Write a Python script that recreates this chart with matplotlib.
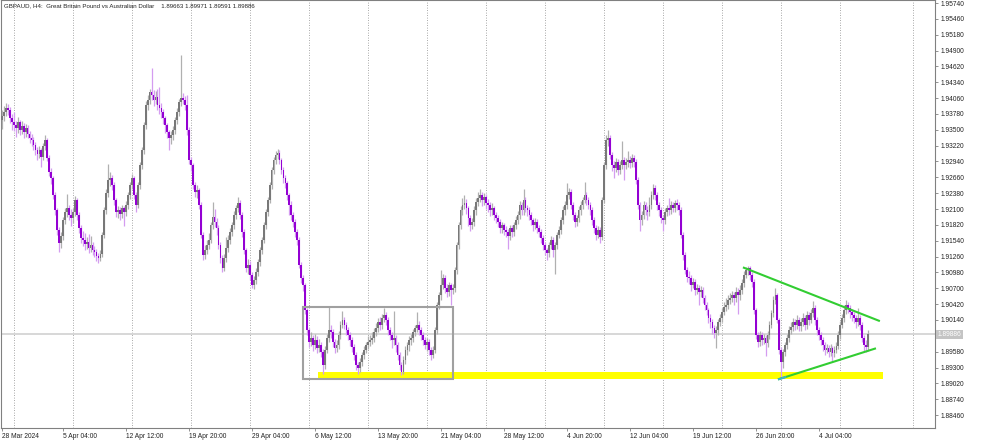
import numpy as np
import pandas as pd
import matplotlib
matplotlib.use("Agg")
import matplotlib.pyplot as plt
from matplotlib.patches import Rectangle
from matplotlib.transforms import blended_transform_factory
from matplotlib import rcParams

rcParams['font.family'] = ['Liberation Sans', 'DejaVu Sans']
rcParams['font.size'] = 4.8

header = "GBPAUD, H4:  Great Britain Pound vs Australian Dollar    1.89663 1.89971 1.89591 1.89886"
last_price = 1.89886
first_open = 1.9368

# H4 closes, 28 Mar 2024 -> 10 Jul 2024 (one row block per week)
closes = [
    1.9374, 1.9381, 1.9388, 1.9385, 1.9370, 1.9363,
    # 1 Apr
    1.9358, 1.9353, 1.9363, 1.9349, 1.9356, 1.9346, 1.9353, 1.9342, 1.9335, 1.9332,
    1.9323, 1.9314, 1.9307, 1.9314, 1.9302, 1.9321, 1.9332, 1.9300, 1.9275, 1.9264,
    1.9234, 1.9208, 1.9173, 1.9150, 1.9162, 1.9190, 1.9204, 1.9211, 1.9199, 1.9194,
    # 8 Apr
    1.9204, 1.9226, 1.9199, 1.9176, 1.9158, 1.9155, 1.9148, 1.9151, 1.9141, 1.9146,
    1.9137, 1.9134, 1.9127, 1.9123, 1.9130, 1.9164, 1.9208, 1.9238, 1.9261, 1.9264,
    1.9252, 1.9226, 1.9204, 1.9208, 1.9201, 1.9211, 1.9204, 1.9217, 1.9234, 1.9252,
    # 15 Apr
    1.9264, 1.9234, 1.9217, 1.9252, 1.9287, 1.9314, 1.9358, 1.9393, 1.9402, 1.9416,
    1.9411, 1.9402, 1.9408, 1.9393, 1.9388, 1.9381, 1.9370, 1.9358, 1.9346, 1.9335,
    1.9340, 1.9349, 1.9367, 1.9381, 1.9399, 1.9406, 1.9402, 1.9393, 1.9349, 1.9296,
    # 22 Apr
    1.9287, 1.9252, 1.9240, 1.9243, 1.9217, 1.9164, 1.9128, 1.9137, 1.9146, 1.9155,
    1.9181, 1.9196, 1.9187, 1.9176, 1.9146, 1.9123, 1.9105, 1.9123, 1.9141, 1.9155,
    1.9169, 1.9181, 1.9199, 1.9211, 1.9220, 1.9199, 1.9169, 1.9137, 1.9105, 1.9111,
    # 29 Apr
    1.9093, 1.9075, 1.9084, 1.9098, 1.9116, 1.9137, 1.9155, 1.9181, 1.9204, 1.9226,
    1.9252, 1.9279, 1.9296, 1.9305, 1.9309, 1.9296, 1.9279, 1.9264, 1.9256, 1.9234,
    1.9217, 1.9199, 1.9187, 1.9169, 1.9155, 1.9111, 1.9088, 1.9075, 1.9031, 1.8996,
    # 6 May
    1.8975, 1.8982, 1.8969, 1.8978, 1.8964, 1.8969, 1.8957, 1.8934, 1.8961, 1.8982,
    1.8996, 1.8992, 1.8975, 1.8964, 1.8969, 1.8987, 1.9005, 1.9014, 1.9005, 1.8996,
    1.8987, 1.8978, 1.8966, 1.8952, 1.8934, 1.8929, 1.8939, 1.8952, 1.8961, 1.8969,
    # 13 May
    1.8975, 1.8978, 1.8982, 1.8992, 1.8999, 1.9010, 1.9005, 1.9017, 1.9022, 1.9014,
    1.8996, 1.8987, 1.8978, 1.8982, 1.8969, 1.8952, 1.8934, 1.8922, 1.8943, 1.8961,
    1.8969, 1.8978, 1.8982, 1.8992, 1.8999, 1.9005, 1.8996, 1.8987, 1.8978, 1.8969,
    # 20 May
    1.8975, 1.8961, 1.8952, 1.8961, 1.8996, 1.9040, 1.9058, 1.9075, 1.9088, 1.9070,
    1.9063, 1.9075, 1.9067, 1.9070, 1.9102, 1.9146, 1.9181, 1.9208, 1.9217, 1.9220,
    1.9211, 1.9194, 1.9181, 1.9187, 1.9208, 1.9222, 1.9229, 1.9234, 1.9226, 1.9231,
    # 27 May
    1.9220, 1.9217, 1.9208, 1.9211, 1.9199, 1.9194, 1.9187, 1.9176, 1.9181, 1.9173,
    1.9169, 1.9162, 1.9176, 1.9169, 1.9181, 1.9190, 1.9199, 1.9217, 1.9208, 1.9226,
    1.9211, 1.9208, 1.9199, 1.9190, 1.9181, 1.9187, 1.9176, 1.9169, 1.9158, 1.9146,
    # 3 Jun
    1.9137, 1.9132, 1.9146, 1.9155, 1.9137, 1.9146, 1.9164, 1.9173, 1.9190, 1.9208,
    1.9217, 1.9234, 1.9240, 1.9217, 1.9199, 1.9187, 1.9194, 1.9208, 1.9217, 1.9226,
    1.9234, 1.9226, 1.9217, 1.9208, 1.9190, 1.9176, 1.9164, 1.9173, 1.9160, 1.9226,
    # 10 Jun
    1.9287, 1.9332, 1.9335, 1.9305, 1.9287, 1.9282, 1.9293, 1.9279, 1.9287, 1.9296,
    1.9287, 1.9293, 1.9296, 1.9291, 1.9300, 1.9293, 1.9261, 1.9217, 1.9190, 1.9199,
    1.9217, 1.9208, 1.9204, 1.9217, 1.9234, 1.9247, 1.9234, 1.9217, 1.9208, 1.9194,
    # 17 Jun
    1.9190, 1.9204, 1.9211, 1.9208, 1.9217, 1.9211, 1.9220, 1.9217, 1.9208, 1.9164,
    1.9128, 1.9102, 1.9090, 1.9088, 1.9075, 1.9081, 1.9067, 1.9070, 1.9063, 1.9067,
    1.9052, 1.9040, 1.9031, 1.9017, 1.9010, 1.8999, 1.8991, 1.8996, 1.9010, 1.9017,
    # 24 Jun
    1.9028, 1.9037, 1.9040, 1.9049, 1.9052, 1.9058, 1.9052, 1.9063, 1.9058, 1.9067,
    1.9079, 1.9093, 1.9102, 1.9105, 1.9093, 1.9081, 1.9031, 1.8987, 1.8975, 1.8987,
    1.8978, 1.8982, 1.8973, 1.8987, 1.9005, 1.9026, 1.9049, 1.9058, 1.9014, 1.8961,
    # 1 Jul
    1.8939, 1.8957, 1.8969, 1.8982, 1.8996, 1.9001, 1.9010, 1.9005, 1.9014, 1.9003,
    1.9010, 1.9017, 1.9005, 1.9022, 1.9014, 1.9026, 1.9035, 1.9014, 1.8996, 1.8987,
    1.8978, 1.8969, 1.8961, 1.8964, 1.8957, 1.8964, 1.8955, 1.8961, 1.8968, 1.8987,
    # 8 Jul
    1.9005, 1.9017, 1.9031, 1.9040, 1.9035, 1.9028, 1.9022, 1.9017, 1.9010, 1.9017,
    1.9005, 1.8982, 1.8969, 1.89663, 1.89886,
]

highs = [
    1.9385, 1.9392, 1.9398, 1.9396, 1.9390, 1.9378,
    1.9382, 1.9366, 1.9372, 1.9368, 1.9365, 1.9362, 1.9360, 1.9358, 1.9347, 1.9343,
    1.9338, 1.9328, 1.9320, 1.9321, 1.9318, 1.9327, 1.9340, 1.9336, 1.9305, 1.9282,
    1.9268, 1.9240, 1.9212, 1.9178, 1.9170, 1.9196, 1.9212, 1.9236, 1.9218, 1.9210,
    1.9212, 1.9233, 1.9230, 1.9204, 1.9181, 1.9172, 1.9168, 1.9160, 1.9166, 1.9162,
    1.9152, 1.9145, 1.9140, 1.9133, 1.9138, 1.9170, 1.9214, 1.9245, 1.9290, 1.9275,
    1.9270, 1.9258, 1.9230, 1.9216, 1.9214, 1.9218, 1.9216, 1.9224, 1.9240, 1.9258,
    1.9272, 1.9268, 1.9240, 1.9258, 1.9293, 1.9320, 1.9364, 1.9400, 1.9412, 1.9422,
    1.9460, 1.9420, 1.9418, 1.9422, 1.9425, 1.9398, 1.9386, 1.9375, 1.9362, 1.9350,
    1.9348, 1.9356, 1.9372, 1.9388, 1.9405, 1.9482, 1.9415, 1.9410, 1.9412, 1.9355,
    1.9302, 1.9292, 1.9258, 1.9252, 1.9248, 1.9222, 1.9170, 1.9146, 1.9155, 1.9168,
    1.9188, 1.9222, 1.9210, 1.9195, 1.9182, 1.9152, 1.9128, 1.9130, 1.9160, 1.9165,
    1.9176, 1.9188, 1.9206, 1.9218, 1.9232, 1.9226, 1.9205, 1.9175, 1.9142, 1.9122,
    1.9118, 1.9098, 1.9092, 1.9105, 1.9122, 1.9143, 1.9160, 1.9187, 1.9210, 1.9232,
    1.9258, 1.9285, 1.9302, 1.9312, 1.9316, 1.9314, 1.9300, 1.9284, 1.9270, 1.9260,
    1.9238, 1.9224, 1.9205, 1.9192, 1.9174, 1.9160, 1.9116, 1.9094, 1.9080, 1.9036,
    1.9000, 1.8992, 1.8988, 1.8990, 1.8985, 1.8980, 1.8975, 1.8962, 1.8968, 1.8990,
    1.9038, 1.9005, 1.8998, 1.8980, 1.8978, 1.8994, 1.9012, 1.9030, 1.9020, 1.9010,
    1.9002, 1.8992, 1.8984, 1.8972, 1.8958, 1.8940, 1.8946, 1.8958, 1.8968, 1.8976,
    1.8985, 1.8988, 1.8992, 1.9000, 1.9008, 1.9018, 1.9020, 1.9025, 1.9035, 1.9028,
    1.9020, 1.9002, 1.8992, 1.9030, 1.8988, 1.8975, 1.8958, 1.8940, 1.8950, 1.8968,
    1.8976, 1.8986, 1.8990, 1.8998, 1.9006, 1.9028, 1.9012, 1.9002, 1.8992, 1.8984,
    1.8982, 1.8980, 1.8966, 1.8968, 1.9002, 1.9046, 1.9064, 1.9102, 1.9095, 1.9094,
    1.9078, 1.9082, 1.9080, 1.9078, 1.9108, 1.9152, 1.9188, 1.9215, 1.9230, 1.9235,
    1.9228, 1.9216, 1.9200, 1.9195, 1.9215, 1.9230, 1.9240, 1.9245, 1.9240, 1.9238,
    1.9236, 1.9228, 1.9222, 1.9220, 1.9215, 1.9205, 1.9200, 1.9192, 1.9188, 1.9186,
    1.9180, 1.9175, 1.9182, 1.9182, 1.9188, 1.9198, 1.9206, 1.9224, 1.9222, 1.9245,
    1.9232, 1.9218, 1.9214, 1.9205, 1.9195, 1.9194, 1.9192, 1.9182, 1.9175, 1.9164,
    1.9152, 1.9142, 1.9152, 1.9162, 1.9160, 1.9152, 1.9170, 1.9180, 1.9196, 1.9215,
    1.9225, 1.9256, 1.9248, 1.9245, 1.9222, 1.9204, 1.9200, 1.9215, 1.9224, 1.9232,
    1.9258, 1.9240, 1.9232, 1.9222, 1.9214, 1.9196, 1.9182, 1.9180, 1.9178, 1.9232,
    1.9293, 1.9340, 1.9349, 1.9340, 1.9310, 1.9295, 1.9300, 1.9298, 1.9294, 1.9330,
    1.9302, 1.9300, 1.9312, 1.9303, 1.9308, 1.9305, 1.9298, 1.9266, 1.9222, 1.9206,
    1.9224, 1.9222, 1.9215, 1.9232, 1.9242, 1.9255, 1.9252, 1.9240, 1.9222, 1.9213,
    1.9200, 1.9212, 1.9218, 1.9230, 1.9225, 1.9222, 1.9226, 1.9228, 1.9222, 1.9214,
    1.9170, 1.9134, 1.9108, 1.9100, 1.9093, 1.9088, 1.9086, 1.9078, 1.9075, 1.9074,
    1.9072, 1.9058, 1.9046, 1.9036, 1.9024, 1.9015, 1.9005, 1.9004, 1.9016, 1.9024,
    1.9036, 1.9046, 1.9052, 1.9058, 1.9062, 1.9066, 1.9064, 1.9072, 1.9070, 1.9075,
    1.9086, 1.9100, 1.9108, 1.9110, 1.9110, 1.9098, 1.9086, 1.9036, 1.8992, 1.8994,
    1.8992, 1.8990, 1.8988, 1.8994, 1.9012, 1.9032, 1.9056, 1.9070, 1.9062, 1.9018,
    1.8966, 1.8963, 1.8976, 1.8990, 1.9004, 1.9010, 1.9018, 1.9015, 1.9022, 1.9020,
    1.9018, 1.9026, 1.9022, 1.9030, 1.9028, 1.9034, 1.9048, 1.9040, 1.9020, 1.9002,
    1.8992, 1.8984, 1.8975, 1.8972, 1.8970, 1.8972, 1.8968, 1.8968, 1.8975, 1.8994,
    1.9012, 1.9024, 1.9040, 1.9050, 1.9046, 1.9040, 1.9034, 1.9028, 1.9022, 1.9035,
    1.9022, 1.9010, 1.8988, 1.8978, 1.89971,
]

lows = [
    1.9352, 1.9366, 1.9375, 1.9377, 1.9362, 1.9350,
    1.9348, 1.9338, 1.9345, 1.9340, 1.9342, 1.9336, 1.9338, 1.9335, 1.9326, 1.9322,
    1.9314, 1.9305, 1.9296, 1.9300, 1.9285, 1.9296, 1.9315, 1.9294, 1.9268, 1.9255,
    1.9228, 1.9200, 1.9165, 1.9135, 1.9142, 1.9155, 1.9183, 1.9196, 1.9190, 1.9180,
    1.9186, 1.9198, 1.9190, 1.9168, 1.9150, 1.9145, 1.9138, 1.9140, 1.9133, 1.9135,
    1.9128, 1.9125, 1.9118, 1.9114, 1.9118, 1.9125, 1.9158, 1.9202, 1.9232, 1.9250,
    1.9244, 1.9218, 1.9196, 1.9195, 1.9190, 1.9194, 1.9180, 1.9198, 1.9210, 1.9228,
    1.9246, 1.9228, 1.9205, 1.9212, 1.9246, 1.9280, 1.9308, 1.9352, 1.9385, 1.9396,
    1.9403, 1.9392, 1.9395, 1.9385, 1.9378, 1.9370, 1.9360, 1.9345, 1.9335, 1.9315,
    1.9325, 1.9332, 1.9342, 1.9360, 1.9375, 1.9392, 1.9395, 1.9385, 1.9340, 1.9290,
    1.9278, 1.9245, 1.9232, 1.9230, 1.9210, 1.9158, 1.9120, 1.9122, 1.9130, 1.9140,
    1.9150, 1.9175, 1.9178, 1.9165, 1.9140, 1.9115, 1.9098, 1.9100, 1.9116, 1.9135,
    1.9148, 1.9162, 1.9175, 1.9192, 1.9205, 1.9192, 1.9160, 1.9130, 1.9098, 1.9096,
    1.9085, 1.9070, 1.9068, 1.9078, 1.9092, 1.9110, 1.9130, 1.9150, 1.9175, 1.9198,
    1.9220, 1.9246, 1.9272, 1.9290, 1.9298, 1.9290, 1.9272, 1.9256, 1.9248, 1.9226,
    1.9200, 1.9190, 1.9178, 1.9160, 1.9146, 1.9105, 1.9080, 1.9066, 1.9024, 1.8988,
    1.8966, 1.8968, 1.8960, 1.8962, 1.8955, 1.8957, 1.8948, 1.8918, 1.8928, 1.8955,
    1.8976, 1.8983, 1.8966, 1.8955, 1.8958, 1.8962, 1.8980, 1.9000, 1.8998, 1.8988,
    1.8978, 1.8968, 1.8958, 1.8943, 1.8925, 1.8918, 1.8922, 1.8932, 1.8945, 1.8955,
    1.8962, 1.8968, 1.8972, 1.8975, 1.8985, 1.8992, 1.8996, 1.8998, 1.9010, 1.9005,
    1.8988, 1.8978, 1.8965, 1.8970, 1.8958, 1.8943, 1.8925, 1.8916, 1.8918, 1.8936,
    1.8952, 1.8960, 1.8970, 1.8975, 1.8985, 1.8992, 1.8988, 1.8978, 1.8970, 1.8962,
    1.8960, 1.8952, 1.8943, 1.8946, 1.8955, 1.8990, 1.9034, 1.9050, 1.9068, 1.9062,
    1.9055, 1.9056, 1.9040, 1.9060, 1.9064, 1.9095, 1.9140, 1.9175, 1.9200, 1.9210,
    1.9202, 1.9180, 1.9172, 1.9175, 1.9180, 1.9200, 1.9215, 1.9222, 1.9215, 1.9218,
    1.9210, 1.9205, 1.9198, 1.9200, 1.9190, 1.9185, 1.9178, 1.9168, 1.9168, 1.9165,
    1.9160, 1.9140, 1.9155, 1.9160, 1.9162, 1.9175, 1.9184, 1.9192, 1.9200, 1.9200,
    1.9204, 1.9198, 1.9190, 1.9182, 1.9172, 1.9174, 1.9168, 1.9160, 1.9150, 1.9137,
    1.9128, 1.9120, 1.9125, 1.9140, 1.9125, 1.9096, 1.9140, 1.9158, 1.9166, 1.9184,
    1.9200, 1.9210, 1.9228, 1.9210, 1.9190, 1.9178, 1.9180, 1.9188, 1.9200, 1.9210,
    1.9220, 1.9218, 1.9210, 1.9200, 1.9182, 1.9168, 1.9155, 1.9158, 1.9150, 1.9155,
    1.9220, 1.9280, 1.9322, 1.9298, 1.9278, 1.9265, 1.9275, 1.9270, 1.9272, 1.9280,
    1.9262, 1.9280, 1.9285, 1.9282, 1.9285, 1.9284, 1.9254, 1.9210, 1.9172, 1.9182,
    1.9192, 1.9200, 1.9190, 1.9198, 1.9210, 1.9228, 1.9226, 1.9208, 1.9198, 1.9185,
    1.9172, 1.9184, 1.9198, 1.9200, 1.9202, 1.9204, 1.9205, 1.9208, 1.9200, 1.9158,
    1.9120, 1.9095, 1.9082, 1.9078, 1.9066, 1.9070, 1.9058, 1.9060, 1.9040, 1.9055,
    1.9044, 1.9032, 1.9022, 1.9008, 1.9000, 1.8990, 1.8982, 1.8965, 1.8988, 1.9004,
    1.9010, 1.9022, 1.9030, 1.9034, 1.9042, 1.9046, 1.9040, 1.9046, 1.9025, 1.9050,
    1.9060, 1.9072, 1.9088, 1.9094, 1.9085, 1.9072, 1.9024, 1.8980, 1.8966, 1.8968,
    1.8970, 1.8972, 1.8950, 1.8966, 1.8980, 1.9000, 1.9020, 1.9042, 1.9008, 1.8954,
    1.8914, 1.8930, 1.8950, 1.8962, 1.8975, 1.8990, 1.8994, 1.8996, 1.8998, 1.8995,
    1.8995, 1.9004, 1.8996, 1.8998, 1.9006, 1.9008, 1.9020, 1.9005, 1.8988, 1.8978,
    1.8970, 1.8960, 1.8952, 1.8955, 1.8948, 1.8950, 1.8942, 1.8948, 1.8955, 1.8962,
    1.8980, 1.9000, 1.9010, 1.9025, 1.9026, 1.9018, 1.9012, 1.9008, 1.9000, 1.9004,
    1.8996, 1.8975, 1.8960, 1.8958, 1.89591,
]

# drawn objects on the chart (bar index / price)
box = dict(x0=153.0, x1=229.2, p0=1.8909, p1=1.9037)
support = dict(x0=160.5, x1=447.7, p0=1.8909, p1=1.8922)
upper_trend = ([376.5, 446.1], [1.9107, 1.9012])
lower_trend = ([394.3, 444.1], [1.8909, 1.8964])

n = len(closes)
opens = [first_open] + closes[:-1]

times = [pd.Timestamp("2024-03-28") + pd.Timedelta(hours=4 * k) for k in range(6)]
for day in pd.bdate_range("2024-04-01", periods=80):
    for k in range(6):
        times.append(day + pd.Timedelta(hours=4 * k))
times = times[:n]

o = np.array(opens)
c = np.array(closes)
h = np.array(highs)
l = np.array(lows)
x = np.arange(n)
up = c >= o

fig = plt.figure(figsize=(10, 4.43), dpi=100)
ax = fig.add_axes([0.001, 15 / 443, 0.934, 428 / 443])

# weekly dotted grid
week_starts = [i for i, t in enumerate(times) if t.dayofweek == 0 and t.hour == 0]
for gx in week_starts + [463]:
    ax.axvline(gx, color='#8c8c8c', lw=0.6, ls=(0, (1, 2)), zorder=1)

ax.axhline(last_price, color='#d4d4d4', lw=1.3, zorder=1)

# support zone + range box
ax.add_patch(Rectangle((support['x0'], support['p0']), support['x1'] - support['x0'],
                       support['p1'] - support['p0'], facecolor='#ffff00', edgecolor='none', zorder=2))
ax.add_patch(Rectangle((box['x0'], box['p0']), box['x1'] - box['x0'], box['p1'] - box['p0'],
                       fill=False, edgecolor='#a0a0a0', lw=1.5, zorder=5))

# candles
ax.vlines(x[up], l[up], h[up], color='#b0b0b0', lw=0.9, zorder=3)
ax.vlines(x[~up], l[~up], h[~up], color='#d49cf0', lw=0.9, zorder=3)
body_lo = np.minimum(o, c)
body_h = np.maximum(np.abs(c - o), 0.00007)
ax.bar(x[up], body_h[up], bottom=body_lo[up], width=0.9, color='#787878', lw=0, zorder=4)
ax.bar(x[~up], body_h[~up], bottom=body_lo[~up], width=0.9, color='#9400d3', lw=0, zorder=4)

# triangle
ax.plot(*upper_trend, color='#32cd32', lw=1.5, zorder=6, solid_capstyle='butt')
ax.plot(*lower_trend, color='#32cd32', lw=1.5, zorder=6, solid_capstyle='butt')
cyan_end = 398.5
cyan_p = lower_trend[1][0] + (lower_trend[1][1] - lower_trend[1][0]) * \
    (cyan_end - lower_trend[0][0]) / (lower_trend[0][1] - lower_trend[0][0])
ax.plot([lower_trend[0][0], cyan_end], [lower_trend[1][0], cyan_p],
        color='#3cb4c8', lw=1.5, zorder=7, solid_capstyle='butt')

ax.set_xlim(-0.51, 474.1)
ax.set_ylim(1.88232, 1.95793)

# price axis
yt = [1.88460 + 0.0028 * k for k in range(27)]
ylabels = ['' if abs(v - 1.89860) < 1e-6 else f"{v:.5f}" for v in yt]
ax.yaxis.tick_right()
ax.set_yticks(yt)
ax.set_yticklabels(ylabels)

# time axis
xt = [0] + list(range(31, n, 32))
xlabels = []
for i in xt:
    t = times[i]
    xlabels.append(f"{t.day} {t:%b %Y}" if i == 0 else f"{t.day} {t:%b %H:%M}")
ax.set_xticks(xt)
ax.set_xticklabels(xlabels, ha='left')

ax.tick_params(axis='both', direction='out', length=2.5, width=0.6, color='#808080',
               labelsize=4.8, labelcolor='#222222')
ax.tick_params(axis='y', pad=1.5)
ax.tick_params(axis='x', pad=1.0)
for s in ax.spines.values():
    s.set_color('#808080')
    s.set_linewidth(0.8)

ax.text(0.003, 0.993, header, transform=ax.transAxes, ha='left', va='top',
        fontsize=4.4, color='#222222')

tr = blended_transform_factory(ax.transAxes, ax.transData)
ax.text(1.003, last_price, f"{last_price:.5f}", transform=tr, ha='left', va='center',
        fontsize=4.8, color='white',
        bbox=dict(boxstyle='square,pad=0.2', fc='#c4c4c4', ec='none'))

fig.savefig('out.png', dpi=100)
